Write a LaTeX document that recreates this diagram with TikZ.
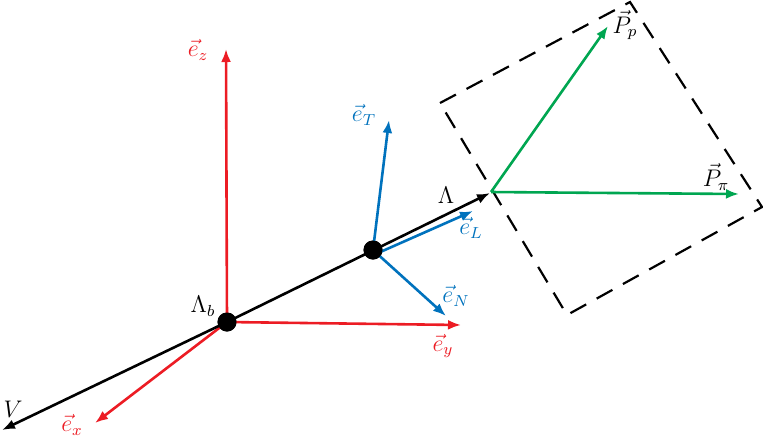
\documentclass[tikz,border=0pt]{standalone}
\usetikzlibrary{arrows.meta}
\definecolor{vred}{RGB}{236,28,36}
\definecolor{vblue}{RGB}{0,114,189}
\definecolor{vgreen}{RGB}{0,166,81}
\begin{document}
\begin{tikzpicture}[x=0.5pt,y=-0.5pt,
  arr/.style={line width=1.3pt,-{Latex[length=6.5pt,width=5pt]}},
  redarr/.style={arr,draw=vred,color=vred},
  bluearr/.style={arr,draw=vblue,color=vblue},
  greenarr/.style={arr,draw=vgreen,color=vgreen},
  blackarr/.style={arr,draw=black},
  dot/.style={circle,fill=black,inner sep=0pt,minimum size=9.5pt},
  lab/.style={inner sep=0.5pt,font=\fontsize{11.5pt}{14pt}\selectfont}]
\useasboundingbox (0,0) rectangle (763,436);
% coordinates
\coordinate (V) at (2,430);
\coordinate (Lam) at (490,193);
\coordinate (ez) at (226,49);
\coordinate (ey) at (461,325);
\coordinate (ex) at (95,423);
\coordinate (eT) at (389,120);
\coordinate (eN) at (446,316);
\coordinate (eLs) at (378,253);
\coordinate (eL) at (473,211);
\coordinate (O) at (491,192);
\coordinate (Pp) at (608,26);
\coordinate (Ppi) at (739,194);
\coordinate (s1) at (440,103);
\coordinate (s2) at (630,2);
\coordinate (s3) at (762,207);
\coordinate (s4) at (567,315);
\node[dot] (Lb) at (227,322) {};
\node[dot] (D2) at (373,250) {};
% dashed square
\draw[line width=1.1pt,dash pattern=on 9pt off 6pt] (s1) -- (s2) -- (s3) -- (s4) -- cycle;
% red axes
\draw[redarr] (Lb.center) -- (ez);
\draw[redarr] (Lb.center) -- (ey);
\draw[redarr] (Lb.center) -- (ex);
% black line
\draw[blackarr] (Lb.center) -- (V);
\draw[blackarr] (Lb.center) -- (Lam);
% blue
\draw[bluearr] (D2.center) -- (eT);
\draw[bluearr] (D2.center) -- (eN);
\draw[bluearr] (eLs) -- (eL);
% green
\draw[greenarr] (O) -- (Pp);
\draw[greenarr] (O) -- (Ppi);
% dots on top
\node[dot] at (Lb) {};
\node[dot] at (D2) {};
% labels
\node[lab,text=vred] (lez) at (198,50) {$\vec{e}_z$};
\node[lab,text=vred] (ley) at (443,346) {$\vec{e}_y$};
\node[lab,text=vred] (lex) at (72,425) {$\vec{e}_x$};
\node[lab,text=vblue] (leT) at (364,115) {$\vec{e}_T$};
\node[lab,text=vblue] (leL) at (471,228) {$\vec{e}_L$};
\node[lab,text=vblue] (leN) at (456,296) {$\vec{e}_N$};
\node[lab] (lLam) at (446,195) {$\Lambda$};
\node[lab] (lLb) at (203,306) {$\Lambda_b$};
\node[lab] (lV) at (13,409) {$V$};
\node[lab] (lPp) at (625,25) {$\vec{P}_p$};
\node[lab] (lPpi) at (716,177) {$\vec{P}_\pi$};
\end{tikzpicture}
\end{document}
